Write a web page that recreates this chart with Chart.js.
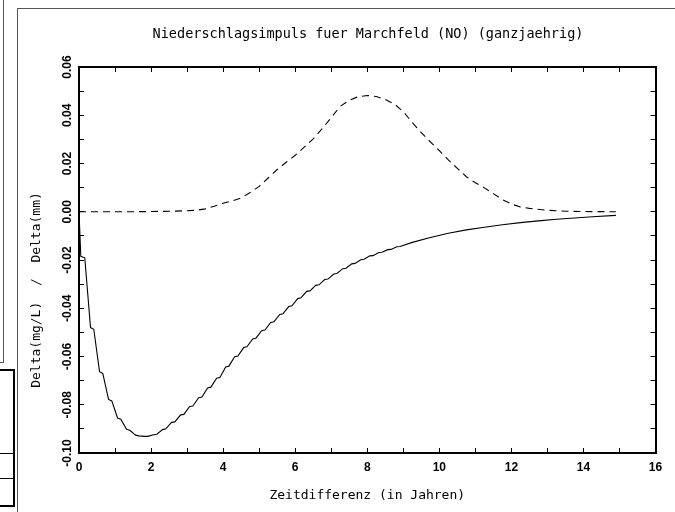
<!DOCTYPE html>
<html><head><meta charset="utf-8">
<script src="https://cdn.jsdelivr.net/npm/chart.js@4.4.1/dist/chart.umd.min.js"></script>
<style>
html,body{margin:0;padding:0;background:#fff;}
#wrap{position:relative;width:675px;height:512px;overflow:hidden;background:#fff;}
canvas{position:absolute;left:0;top:0;}
.ln{position:absolute;background:#555;}
</style></head><body>
<div id="wrap">
<canvas id="c" width="675" height="512"></canvas>
<div class="ln" style="left:17px;top:8px;width:658px;height:1px"></div>
<div class="ln" style="left:17px;top:8px;width:1px;height:504px"></div>
<div class="ln" style="left:3px;top:0;width:1px;height:363px"></div>
<div class="ln" style="left:0;top:362px;width:4px;height:1px"></div>
<div style="position:absolute;left:-2px;top:369px;width:13px;height:134px;border:2px solid #000"></div>
<div class="ln" style="left:0;top:453px;width:13px;height:1px;background:#000"></div>
<div class="ln" style="left:0;top:478px;width:13px;height:1px;background:#000"></div>
</div>
<script>
const chartTitle = 'Niederschlagsimpuls fuer Marchfeld (NO) (ganzjaehrig)';
const xAxisTitle = 'Zeitdifferenz (in Jahren)';
const yAxisTitle = 'Delta(mg/L)  /  Delta(mm)';
const xMin = 0, xMax = 16, xStep = 1, xLabelEvery = 2;
const yMin = -0.10, yMax = 0.06, yStep = 0.01;

const solidX = [0,0.05,0.16,0.32,0.41,0.57,0.66,0.82,0.91,1.07,1.16,1.32,1.41,1.57,1.66,1.82,1.91,
  2.07,2.16,2.32,2.41,2.57,2.66,2.82,2.91,3.07,3.16,3.32,3.41,3.57,3.66,3.82,3.91,
  4.07,4.16,4.32,4.41,4.57,4.66,4.82,4.91,5.07,5.16,5.32,5.41,5.57,5.66,5.82,5.91,
  6.07,6.16,6.32,6.41,6.57,6.66,6.82,6.91,7.07,7.16,7.32,7.41,7.57,7.66,7.82,7.91,
  8.07,8.16,8.32,8.41,8.57,8.66,8.82,8.91,9.25,9.75,10.25,10.75,11.25,11.75,12.25,12.75,
  13.25,13.75,14.25,14.9];
const solidY = [0,-0.0185,-0.0191,-0.0480,-0.0487,-0.0663,-0.0670,-0.0778,-0.0784,-0.0855,-0.0860,-0.0902,-0.0906,-0.0926,-0.0929,-0.0931,-0.0931,
  -0.0924,-0.0922,-0.0903,-0.0900,-0.0873,-0.0871,-0.0842,-0.0840,-0.0807,-0.0805,-0.0771,-0.0768,-0.0730,-0.0727,-0.0690,-0.0687,
  -0.0643,-0.0640,-0.0601,-0.0598,-0.0563,-0.0560,-0.0527,-0.0524,-0.0493,-0.0490,-0.0459,-0.0456,-0.0426,-0.0423,-0.0393,-0.0390,
  -0.0360,-0.0357,-0.0330,-0.0328,-0.0305,-0.0303,-0.0281,-0.0279,-0.0258,-0.0256,-0.0236,-0.0234,-0.0216,-0.0214,-0.0199,-0.0197,
  -0.0183,-0.0182,-0.0169,-0.0168,-0.0157,-0.0156,-0.0145,-0.0144,-0.0127,-0.0107,-0.0089,-0.0075,-0.0064,-0.0054,-0.0045,-0.0038,
  -0.0031,-0.0026,-0.0021,-0.0015];

const dashX = [0,0.5,1,1.5,2,2.5,3,3.25,3.5,3.75,4,4.25,4.5,4.75,5,5.25,5.5,5.75,6,6.25,6.5,6.75,7,7.25,7.5,7.75,8,
  8.25,8.5,8.75,9,9.25,9.5,9.75,10,10.25,10.5,10.75,11,11.25,11.5,11.75,12,12.25,12.5,13,13.5,14,14.9];
const dashY = [0,0,0,0,0.0001,0.0002,0.0004,0.0006,0.0012,0.0023,0.0035,0.0045,0.0057,0.0080,0.0105,0.0140,0.0175,0.0205,0.0234,0.0268,0.0302,0.0345,0.0390,0.0437,0.0462,0.0477,0.0482,
  0.0478,0.0465,0.0447,0.0415,0.0370,0.0328,0.0290,0.0253,0.0215,0.0180,0.0145,0.0120,0.0099,0.0075,0.0050,0.0032,0.0020,0.0014,0.0006,0.0002,0.0001,0.0000];

const toPts = (xs, ys) => xs.map((x, i) => ({x: x, y: ys[i]}));

const titleFont = {family: 'DejaVu Sans Mono', size: 13.5, weight: 'normal', lineHeight: 1.2};
const axisTitleFont = {family: 'DejaVu Sans Mono', size: 13, weight: 'normal', lineHeight: 1.2};
const tickFont = {family: 'Liberation Sans', size: 12, weight: 'bold', lineHeight: 1.2};

const gridInward = {display: true, drawOnChartArea: false, drawTicks: true, tickLength: -5, color: '#000', lineWidth: 1};
const borderOpts = {display: true, color: '#000', width: 2};

function fixW(w){ return function(s){ s.width = w; }; }
function fixH(h){ return function(s){ s.height = h; }; }

// draws the y-axis title, placed relative to the y scale
const yTitlePlugin = {
  id: 'yTitle',
  afterDraw(chart) {
    const ys = chart.scales.y;
    const ctx = chart.ctx;
    ctx.save();
    ctx.font = axisTitleFont.size + 'px "' + axisTitleFont.family + '"';
    ctx.fillStyle = '#000';
    ctx.textAlign = 'center';
    ctx.textBaseline = 'middle';
    ctx.translate(37, (ys.top + ys.bottom) / 2 + 30);
    ctx.rotate(-Math.PI / 2);
    ctx.fillText(yAxisTitle, 0, 0);
    ctx.restore();
  }
};

new Chart(document.getElementById('c'), {
  type: 'line',
  data: {
    datasets: [
      {data: toPts(solidX, solidY), borderColor: '#000', borderWidth: 1.1, pointRadius: 0, tension: 0, fill: false, xAxisID: 'x', yAxisID: 'y'},
      {data: toPts(dashX, dashY), borderColor: '#000', borderWidth: 1.1, borderDash: [7, 5], pointRadius: 0, tension: 0, fill: false, xAxisID: 'x', yAxisID: 'y'}
    ]
  },
  plugins: [yTitlePlugin],
  options: {
    responsive: false,
    animation: false,
    devicePixelRatio: 1,
    layout: {padding: {left: 61, right: 0, top: 0, bottom: 0}},
    plugins: {
      legend: {display: false},
      tooltip: {enabled: false},
      title: {display: true, text: chartTitle, color: '#000', font: titleFont, padding: {top: 26, bottom: 24.8}}
    },
    scales: {
      x: {
        type: 'linear', position: 'bottom', min: xMin, max: xMax,
        grid: gridInward, border: borderOpts,
        ticks: {stepSize: xStep, autoSkip: false, maxRotation: 0, minRotation: 0, color: '#000', font: tickFont, padding: 12.8,
          callback: v => (Math.round(v) % xLabelEvery === 0 ? String(Math.round(v)) : '')},
        title: {display: true, text: xAxisTitle, color: '#000', font: axisTitleFont, padding: {top: 0, bottom: 8.2}},
        afterFit: fixH(59)
      },
      x2: {
        type: 'linear', position: 'top', min: xMin, max: xMax,
        grid: gridInward, border: borderOpts,
        ticks: {display: false, stepSize: xStep, autoSkip: false},
        afterFit: fixH(0)
      },
      y: {
        type: 'linear', position: 'left', min: yMin, max: yMax,
        grid: gridInward, border: borderOpts,
        ticks: {stepSize: yStep, autoSkip: false, minRotation: 90, maxRotation: 90, crossAlign: 'center', color: '#000', font: tickFont, padding: 2.3,
          callback: v => { const k = Math.round(v * 100); return (k % 2 === 0) ? (k / 100).toFixed(2) : ''; }},
        title: {display: false},
        afterFit: fixW(18)
      },
      y2: {
        type: 'linear', position: 'right', min: yMin, max: yMax,
        grid: gridInward, border: borderOpts,
        ticks: {display: false, stepSize: yStep, autoSkip: false},
        afterFit: fixW(17)
      }
    }
  }
});
</script>
</body></html>
